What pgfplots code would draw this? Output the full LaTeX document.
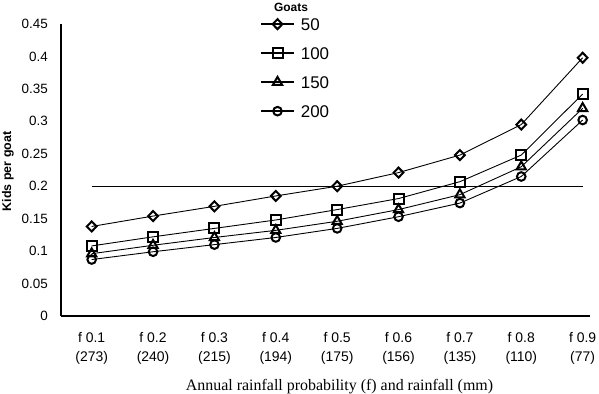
\documentclass[border=0pt]{standalone}
\usepackage{pgfplots}
\pgfplotsset{compat=1.18}
\usepackage{fontspec}
\setmainfont{Liberation Sans}
\newfontfamily\seriffont{Liberation Serif}
\begin{document}
\begin{tikzpicture}
\path[use as bounding box] (-61bp,-78bp) rectangle (538bp,316bp);
\begin{axis}[
  at={(0,0)}, anchor=south west,
  scale only axis, width=529bp, height=292bp,
  xmin=0.5, xmax=9.12, ymin=0, ymax=0.45,
  axis lines=left,
  axis line style={line width=1.9bp, -},
  major tick length=0pt,
  xtick={1,...,9},
  xticklabels={f 0.1\\(273), f 0.2\\(240), f 0.3\\(215), f 0.4\\(194), f 0.5\\(175), f 0.6\\(156), f 0.7\\(135), f 0.8\\(110), f 0.9\\(77)},
  xticklabel style={align=center, font=\fontsize{14}{19.5}\selectfont, inner sep=0pt, anchor=north, yshift=-16bp},
  ytick={0,0.05,...,0.45},
  yticklabel style={font=\fontsize{13.5}{14}\selectfont, inner sep=0pt, anchor=east, xshift=-13bp,
    /pgf/number format/fixed, /pgf/number format/precision=2},
  /pgf/number format/assume math mode=true,
  xlabel={\seriffont Annual rainfall probability (f) and rainfall (mm)},
  xlabel style={font=\fontsize{16}{18}\selectfont, at={(axis description cs:0.5265,0)}, anchor=base, yshift=-74bp},
  legend style={at={(axis description cs:0.376,1.021)}, anchor=north west, draw=none, fill=none,
    font=\fontsize{17}{17}\selectfont, row sep=16.8bp, column sep=6bp, inner sep=0pt,
    nodes={inner sep=0pt, text height=12.2bp, text depth=0bp}},
  legend cell align=left,
  legend image code/.code={\draw[#1, line width=1.8bp, mark repeat=2, mark phase=2] plot coordinates {(0bp,0bp) (16.5bp,0bp) (33bp,0bp)};},
  every axis plot/.append style={black, line width=0.9bp, mark options={solid, fill=white, line width=2bp}},
  clip=false,
]
\addplot[forget plot, line width=0.8bp, mark=none] coordinates {(1,0.2) (9,0.2)};
\addplot[mark=diamond, mark size=5bp, mark options={solid, fill=white, line width=2bp, xscale=1.3}] coordinates {
 (1,0.138) (2,0.154) (3,0.169) (4,0.185) (5,0.200) (6,0.221) (7,0.248) (8,0.295) (9,0.398)};
\addplot[mark=square, mark size=5bp] coordinates {
 (1,0.108) (2,0.122) (3,0.135) (4,0.148) (5,0.164) (6,0.181) (7,0.207) (8,0.248) (9,0.342)};
\addplot[mark=triangle, mark size=5.3bp] coordinates {
 (1,0.096) (2,0.109) (3,0.121) (4,0.132) (5,0.146) (6,0.164) (7,0.187) (8,0.230) (9,0.320)};
\addplot[mark=o, mark size=4.3bp] coordinates {
 (1,0.087) (2,0.099) (3,0.110) (4,0.121) (5,0.135) (6,0.153) (7,0.174) (8,0.215) (9,0.302)};
\legend{50,100,150,200}
\node[font=\bfseries\fontsize{12}{13}\selectfont, inner sep=0pt] at (axis description cs:0.4348,1.056) {Goats};
\node[font=\bfseries\fontsize{12.5}{14}\selectfont, inner sep=0pt, rotate=90] at ([xshift=-53bp]axis description cs:0,0.495) {Kids per goat};
\end{axis}
\end{tikzpicture}
\end{document}
